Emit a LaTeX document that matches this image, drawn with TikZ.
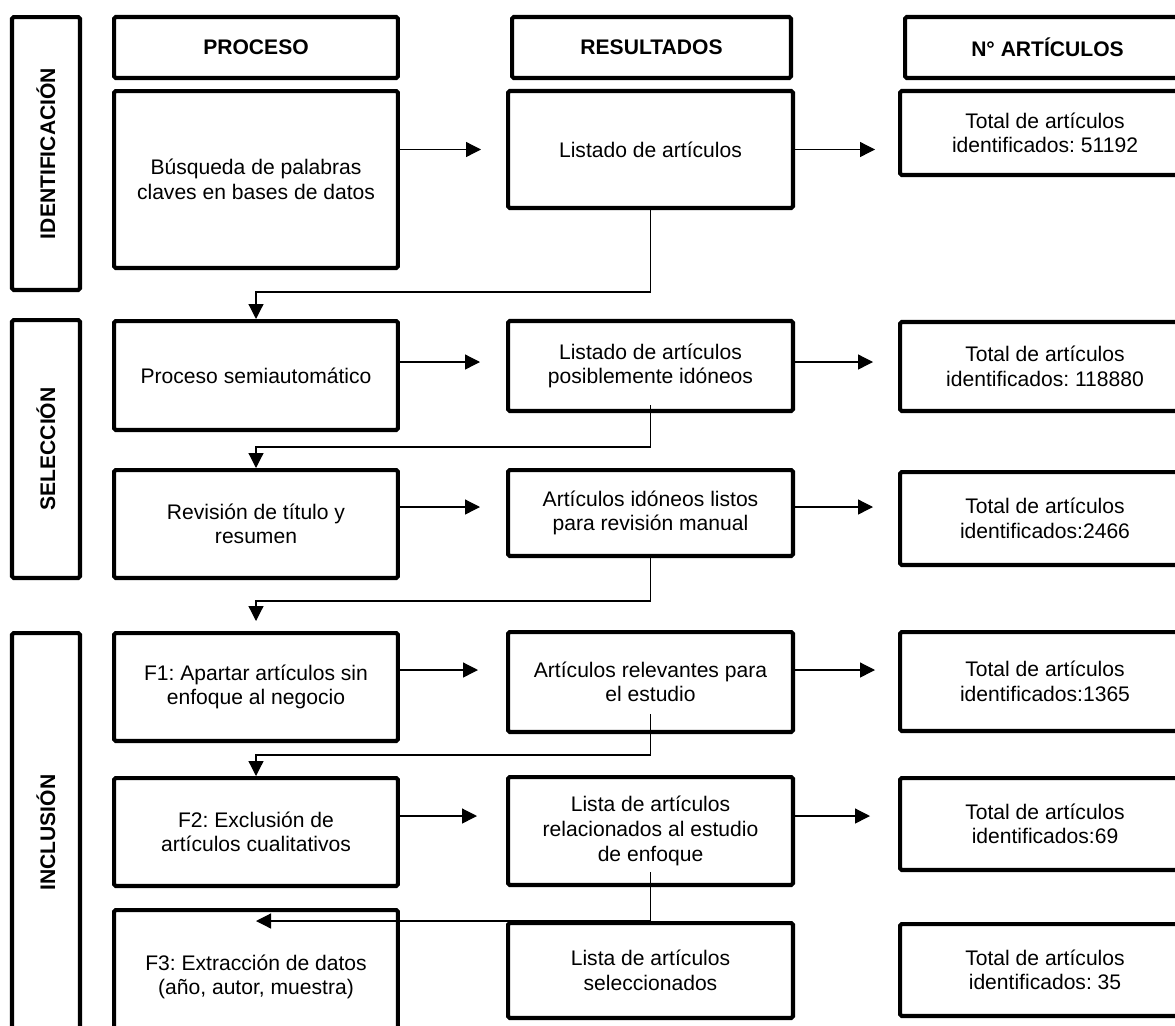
\documentclass[tikz,border=0pt]{standalone}
\usepackage{fontspec}
\setmainfont{Liberation Sans}
\usetikzlibrary{arrows.meta}
\frenchspacing

\begin{document}
\begin{tikzpicture}[x=0.02cm,y=-0.02cm,
    caja/.style={draw,line width=2.3pt,rounded corners=1pt,align=center,inner sep=2pt,font=\fontsize{12}{14}\selectfont},
    cabeza/.style={caja,font=\fontsize{12}{14}\selectfont\bfseries,minimum height=1.22cm},
    fase/.style={caja,font=\fontsize{12}{14}\selectfont\bfseries,rotate=90,minimum height=1.36cm},
    proc/.style={caja,minimum width=5.68cm},
    res/.style={caja,minimum width=5.7cm},
    num/.style={caja,minimum width=5.8cm},
    flecha/.style={-{Triangle[length=0.3cm,width=0.3cm]},line width=0.7pt}]
    \clip (0,0) rectangle (1175,1025);
    \pgfmathsetmacro{\colP}{256}
    \pgfmathsetmacro{\colR}{650.5}
    \pgfmathsetmacro{\colN}{1045}
    % fases
    \node[fase,minimum width=5.46cm] (ident) at (46,153.5) {IDENTIFICACIÓN};
    \node[fase,minimum width=5.16cm] (selec) at (46,449) {SELECCIÓN};
    \node[fase,minimum width=7.98cm] (inclu) at (46,832.5) {INCLUSIÓN};
    % cabeceras
    \node[cabeza,minimum width=5.68cm] (hproc) at (\colP,47.5) {PROCESO};
    \node[cabeza,minimum width=5.58cm] (hres) at (651.5,47.5) {RESULTADOS};
    \node[cabeza,minimum width=5.7cm] (hnum) at (1047.5,47.5) {N° ARTÍCULOS};
    % proceso
    \node[proc,minimum height=3.54cm] (busq) at (\colP,179.5) {Búsqueda de palabras\\claves en bases de datos};
    \node[proc,minimum height=2.18cm] (semi) at (\colP,375.5) {Proceso semiautomático};
    \node[proc,minimum height=2.16cm] (revi) at (\colP,524) {Revisión de título y\\resumen};
    \node[proc,minimum height=2.16cm] (fone) at (\colP,687) {F1: Apartar artículos sin\\enfoque al negocio};
    \node[proc,minimum height=2.16cm] (ftwo) at (\colP,832) {F2: Exclusión de\\artículos cualitativos};
    \node[proc,minimum height=2.68cm] (fthree) at (\colP,977) {F3: Extracción de datos\\(año, autor, muestra)};
    % resultados
    \node[res,minimum height=2.34cm] (lista) at (\colR,149.5) {Listado de artículos};
    \node[res,minimum height=1.8cm] (lpos) at (\colR,366) {Listado de artículos\\posiblemente idóneos};
    \node[res,minimum height=1.72cm] (lido) at (\colR,513) {Artículos idóneos listos\\para revisión manual};
    \node[res,minimum height=2cm] (lrel) at (\colR,682) {Artículos relevantes para\\el estudio};
    \node[res,minimum height=2.16cm] (lrelac) at (\colR,831) {Lista de artículos\\relacionados al estudio\\de enfoque};
    \node[res,minimum height=1.9cm] (lsel) at (\colR,970.5) {Lista de artículos\\seleccionados};
    % numero de articulos
    \node[num,minimum height=1.68cm] (tuno) at (\colN,133) {Total de artículos\\identificados: 51192};
    \node[num,minimum height=1.78cm] (tdos) at (\colN,366.5) {Total de artículos\\identificados: 118880};
    \node[num,minimum height=1.86cm] (ttres) at (\colN,518.5) {Total de artículos\\identificados:2466};
    \node[num,minimum height=1.98cm] (tcuatro) at (\colN,681.5) {Total de artículos\\identificados:1365};
    \node[num,minimum height=1.84cm] (tcinco) at (\colN,824) {Total de artículos\\identificados:69};
    \node[num,minimum height=1.84cm] (tseis) at (\colN,970) {Total de artículos\\identificados: 35};
    % flechas horizontales
    \draw[flecha] (busq.east |- lista.west) -- ([xshift=-0.5cm]lista.west);
    \draw[flecha] (lista.east) -- ([xshift=-0.46cm]tuno.west |- lista.east);
    \draw[flecha] ([yshift=0.08cm]semi.east |- lpos.west) -- ([yshift=0.08cm,xshift=-0.52cm]lpos.west);
    \draw[flecha] ([yshift=0.08cm]lpos.east) -- ([yshift=0.08cm,xshift=-0.5cm]tdos.west |- lpos.east);
    \draw[flecha] ([yshift=0.12cm]revi.east |- lido.west) -- ([yshift=0.12cm,xshift=-0.52cm]lido.west);
    \draw[flecha] ([yshift=0.12cm]lido.east) -- ([yshift=0.12cm,xshift=-0.5cm]ttres.west |- lido.east);
    \draw[flecha] ([yshift=0.24cm]fone.east |- lrel.west) -- ([yshift=0.24cm,xshift=-0.56cm]lrel.west);
    \draw[flecha] ([yshift=0.24cm]lrel.east) -- ([yshift=0.24cm,xshift=-0.46cm]tcuatro.west |- lrel.east);
    \draw[flecha] ([yshift=0.3cm]ftwo.east |- lrelac.west) -- ([yshift=0.3cm,xshift=-0.58cm]lrelac.west);
    \draw[flecha] ([yshift=0.3cm]lrelac.east) -- ([yshift=0.3cm,xshift=-0.56cm]tcinco.west |- lrelac.east);
    % conectores entre filas
    \draw[flecha] (lista.south) -- ++(0,82) -| (semi.north);
    \draw[flecha] ([yshift=0.16cm]lpos.south) -- ++(0,42) -| (revi.north);
    \draw[flecha] (lido.south) -- ++(0,43) -| ([yshift=0.2cm]fone.north);
    \draw[flecha] ([yshift=0.4cm]lrel.south) -- ++(0,41) -| (ftwo.north);
    \draw[flecha] ([yshift=0.3cm]lrelac.south) |- (fthree.center |- lsel.north);
\end{tikzpicture}
\end{document}
